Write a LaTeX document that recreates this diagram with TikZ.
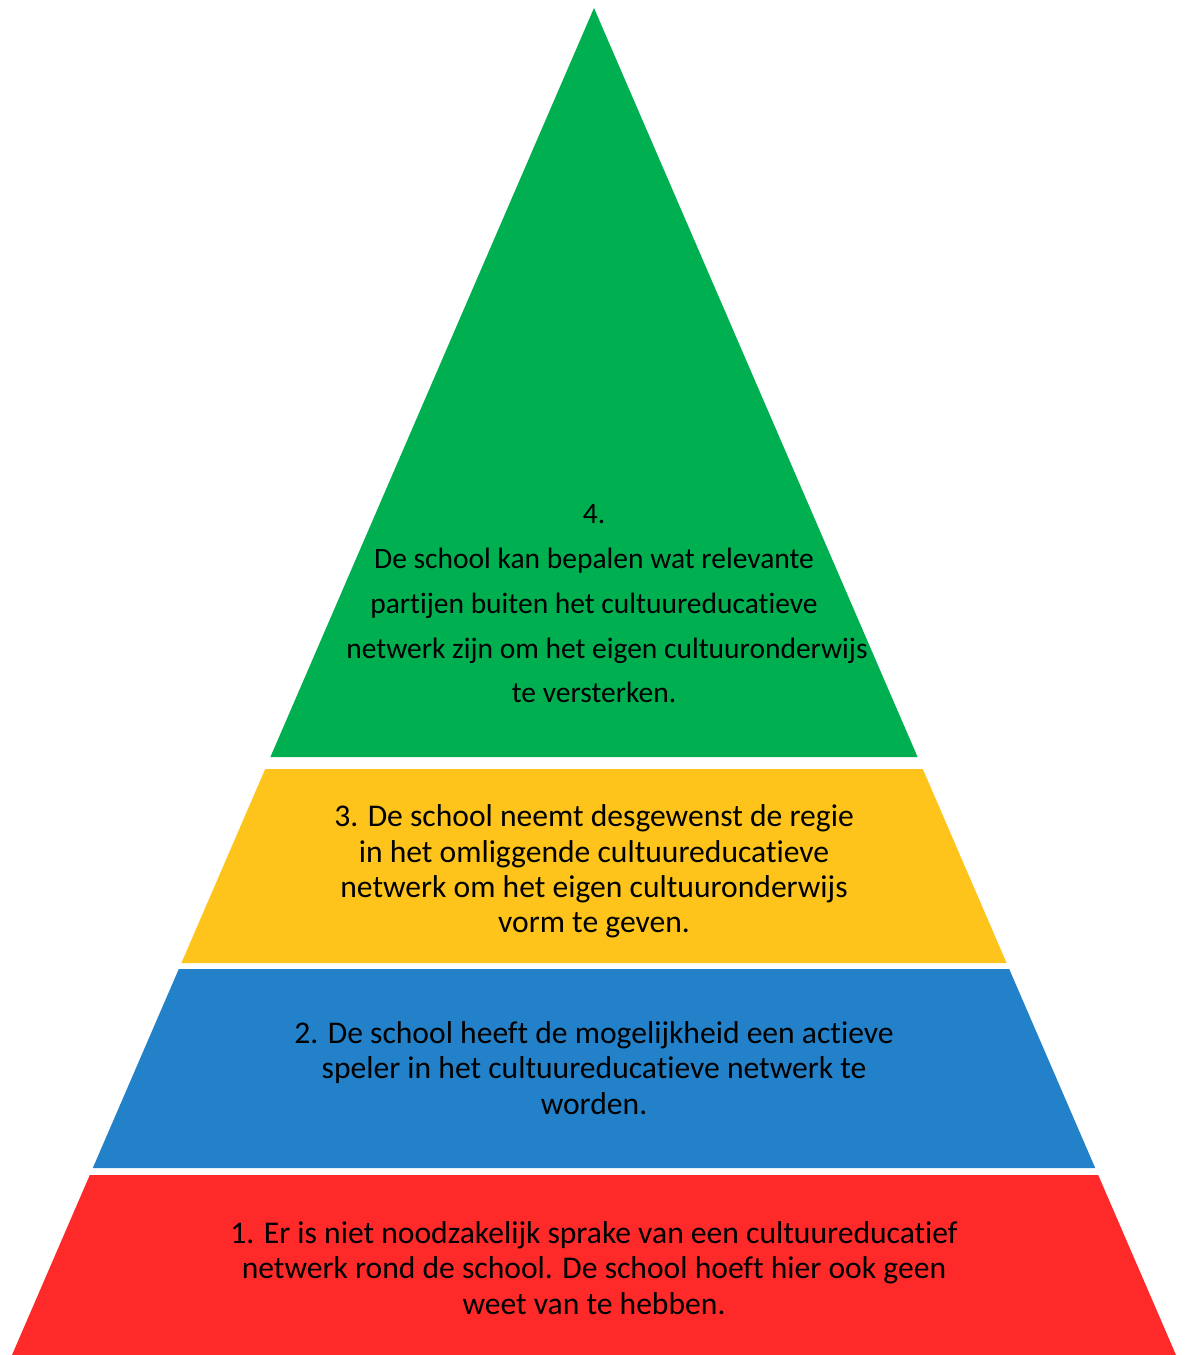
\documentclass[tikz,border=0pt]{standalone}
\usepackage{fontspec}
\setmainfont{Carlito}[Ligatures={NoCommon}]
\definecolor{lvlgreen}{HTML}{00B050}
\definecolor{lvlyellow}{HTML}{FEC41B}
\definecolor{lvlblue}{HTML}{2281C9}
\definecolor{lvlred}{HTML}{FE2A2A}
\tikzset{
  lvltext/.style={align=center, text=black, font=\fontsize{31.6}{35.3}\selectfont},
  toptext/.style={lvltext, font=\fontsize{29.5}{44.7}\selectfont}
}
\begin{document}
\begin{tikzpicture}[x=1pt,y=-1pt]
\useasboundingbox (0,0) rectangle (1186,1355);
% top level
\coordinate (A) at (594,8);
\coordinate (G1) at (270.4,757);
\coordinate (G2) at (917.6,757);
% level 3
\coordinate (Y1) at (265.2,769);
\coordinate (Y2) at (922.8,769);
\coordinate (Y3) at (1006.6,963);
\coordinate (Y4) at (181.4,963);
% level 2
\coordinate (B1) at (178.8,969);
\coordinate (B2) at (1009.2,969);
\coordinate (B3) at (1095.2,1168);
\coordinate (B4) at (92.8,1168);
% level 1
\coordinate (R1) at (89.8,1175);
\coordinate (R2) at (1098.2,1175);
\coordinate (R3) at (1176,1355);
\coordinate (R4) at (12,1355);
\fill [lvlgreen] (A) -- (G2) -- (G1) -- cycle;
\fill [lvlyellow] (Y1) -- (Y2) -- (Y3) -- (Y4) -- cycle;
\fill [lvlblue] (B1) -- (B2) -- (B3) -- (B4) -- cycle;
\fill [lvlred] (R1) -- (R2) -- (R3) -- (R4) -- cycle;
\node [toptext] (t4) at (594,604) {4.\\De school kan bepalen wat relevante\\partijen buiten het cultuureducatieve\\\hspace*{26pt}netwerk zijn om het eigen cultuuronderwijs\\te versterken.};
\node [lvltext] (t3) at (594,871.5) {3. De school neemt desgewenst de regie\\in het omliggende cultuureducatieve\\netwerk om het eigen cultuuronderwijs\\vorm te geven.};
\node [lvltext] (t2) at (594,1068) {2. De school heeft de mogelijkheid een actieve\\speler in het cultuureducatieve netwerk te\\worden.};
\node [lvltext] (t1) at (594,1268) {1. Er is niet noodzakelijk sprake van een cultuureducatief\\netwerk rond de school. De school hoeft hier ook geen\\weet van te hebben.};
\end{tikzpicture}
\end{document}
